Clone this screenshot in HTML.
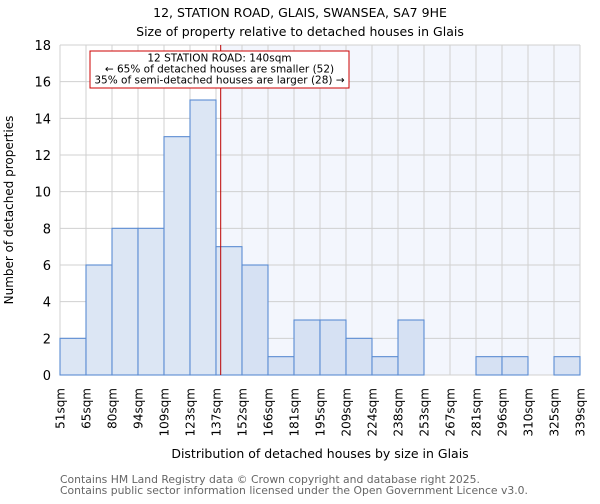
<!DOCTYPE html>
<html><head><meta charset="utf-8"><style>
body{margin:0;background:#fff;font-family:"DejaVu Sans","Liberation Sans",sans-serif}
</style></head><body>
<svg width="600" height="500" xmlns="http://www.w3.org/2000/svg" font-family="DejaVu Sans, Liberation Sans, sans-serif">
<text x="300" y="17" text-anchor="middle" font-size="12.5">12, STATION ROAD, GLAIS, SWANSEA, SA7 9HE</text>
<text x="300" y="36" text-anchor="middle" font-size="12.5">Size of property relative to detached houses in Glais</text>
<g id="plot"></g>
<text transform="translate(13,210) rotate(-90)" text-anchor="middle" font-size="12">Number of detached properties</text>
<text x="320" y="458" text-anchor="middle" font-size="12.5">Distribution of detached houses by size in Glais</text>
<text x="60" y="483" font-size="10.8" fill="#666">Contains HM Land Registry data © Crown copyright and database right 2025.</text>
<text x="60" y="494" font-size="10.8" fill="#666">Contains public sector information licensed under the Open Government Licence v3.0.</text>
</svg>
<script>
const binLabels=["51sqm","65sqm","80sqm","94sqm","109sqm","123sqm","137sqm","152sqm","166sqm","181sqm","195sqm","209sqm","224sqm","238sqm","253sqm","267sqm","281sqm","296sqm","310sqm","325sqm","339sqm"];
const binEdges=[51,65.4,79.8,94.2,108.6,123,137.4,151.8,166.2,180.6,195,209.4,223.8,238.2,252.6,267,281.4,295.8,310.2,324.6,339];
const counts=[2,6,8,8,13,15,7,6,1,3,3,2,1,3,0,0,1,1,0,1];
const yTicks=[0,2,4,6,8,10,12,14,16,18];
const propertySize=140;
const L=60,R=580,T=45,B=375,xMin=51,xMax=339,yMax=18;
const xs=v=>L+(v-xMin)/(xMax-xMin)*(R-L);
const ys=v=>B-v/yMax*(B-T);
const NS="http://www.w3.org/2000/svg";
const g=document.getElementById('plot');
function mk(t,a){const e=document.createElementNS(NS,t);for(const k in a)e.setAttribute(k,a[k]);g.appendChild(e);return e;}
const px=xs(propertySize);
let e=mk('rect',{x:px,y:T,width:R-px,height:B-T,fill:'#f3f6fd'});


binEdges.forEach(v=>{const l=mk('line',{x1:xs(v),x2:xs(v),y1:T,y2:B,stroke:'#d0d0d0','stroke-width':1});

});
yTicks.forEach(v=>{const l=mk('line',{x1:L,x2:R,y1:ys(v),y2:ys(v),stroke:'#d0d0d0','stroke-width':1});


const t=mk('text',{x:L-9,y:ys(v)+5,'text-anchor':'end','font-size':13});t.textContent=v;

});
counts.forEach((c,i)=>{if(c<=0)return;const x0=xs(binEdges[i]),x1=xs(binEdges[i+1]);
const r=mk('rect',{x:x0,y:ys(c),width:x1-x0,height:ys(0)-ys(c),fill:x0>=px?'#d6e1f3':'#dce6f4',stroke:'#5b8cd2','stroke-width':1.1});

});
binLabels.forEach((s,i)=>{const x=xs(binEdges[i]);const t=mk('text',{transform:`translate(${x+4.5},388) rotate(-90)`,'text-anchor':'end','font-size':12});t.textContent=s;

});
e=mk('line',{x1:px,x2:px,y1:T,y2:B,stroke:'#bb0000','stroke-width':1});


e=mk('rect',{x:90,y:51,width:259,height:37,fill:'#fff',stroke:'#cc0000','stroke-width':1});


["12 STATION ROAD: 140sqm","← 65% of detached houses are smaller (52)","35% of semi-detached houses are larger (28) →"].forEach((s,i)=>{const t=mk('text',{x:219.5,y:61.5+i*11,'text-anchor':'middle','font-size':10.5});t.textContent=s;

});
</script>
</body></html>
